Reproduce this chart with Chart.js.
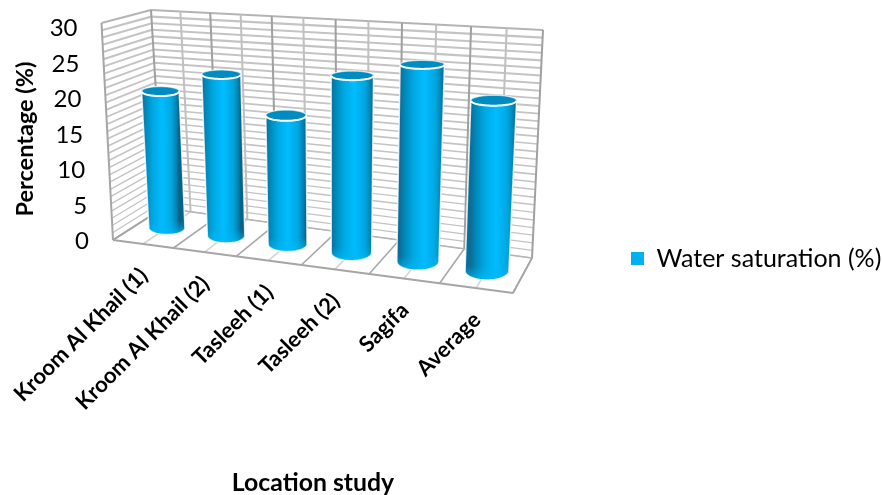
<!DOCTYPE html>
<html lang="en">

<head>
    <meta charset="UTF-8">
    <title>Water saturation by location</title>
    <style>
        body {
            margin: 0;
            background-color: #fff;
        }

        canvas {
            display: block;
        }
    </style>
    <script src="https://cdn.jsdelivr.net/npm/chart.js"></script>
</head>

<body>
    <canvas id="myChart" width="882" height="495"></canvas>
    <script>
        const categories = ['Kroom Al Khail (1)', 'Kroom Al Khail (2)', 'Tasleeh (1)', 'Tasleeh (2)', 'Sagifa', 'Average'];
        const waterSaturation = [19.5, 22.5, 17.5, 23.5, 25.5, 21.5];
        const seriesName = 'Water saturation (%)';
        const yTitle = 'Percentage (%)';
        const xTitle = 'Location study';

        const FONT = 'Lato, Carlito, sans-serif';

        // box corners of the 3D plot: [x, y], named by side / depth / height
        const box = {
            frontLeftBottom: [113, 240], frontRightBottom: [513, 293],
            backLeftBottom: [163, 208], backRightBottom: [532, 258],
            frontLeftTop: [101.5, 23], frontRightTop: [525, 40],
            backLeftTop: [151, 10], backRightTop: [543, 30]
        };
        const PERSPECTIVE = 0.89;

        function lerp(a, b, t) {
            return [a[0] + (b[0] - a[0]) * t, a[1] + (b[1] - a[1]) * t];
        }

        // x fraction across the floor, with the far end foreshortened
        function warp(t) {
            return t * PERSPECTIVE / (1 - t + t * PERSPECTIVE);
        }

        // s across, v up, d into the page, all 0..1
        function project(s, v, d) {
            const bottom = lerp(lerp(box.frontLeftBottom, box.frontRightBottom, s), lerp(box.backLeftBottom, box.backRightBottom, s), d);
            const top = lerp(lerp(box.frontLeftTop, box.frontRightTop, s), lerp(box.backLeftTop, box.backRightTop, s), d);
            return lerp(bottom, top, v);
        }

        function line(ctx, a, b, color, width) {
            ctx.strokeStyle = color;
            ctx.lineWidth = width;
            ctx.beginPath();
            ctx.moveTo(a[0], a[1]);
            ctx.lineTo(b[0], b[1]);
            ctx.stroke();
        }

        function drawWalls(ctx, yScale) {
            const max = yScale.max;
            for (let n = yScale.min; n <= max; n++) {
                const v = n / max;
                const w = 1.2 + v * 1;
                const color = n === max ? '#b4b4b4' : '#c4c4c4';
                line(ctx, project(0, v, 1), project(1, v, 1), color, w);
                line(ctx, project(0, v, 0), project(0, v, 1), color, w);
            }
            for (let i = 0; i <= 12; i++) {
                const s = warp(i / 12);
                const major = i % 2 === 0;
                const color = major ? '#a0a0a0' : '#c0c0c0';
                line(ctx, project(s, 0, 1), project(s, 1, 1), color, 2);
                line(ctx, project(s, 0, 0), project(s, 0, 1), major ? '#a8a8a8' : '#d4d4d4', 1.6);
            }
            line(ctx, project(0, 0, 0), project(0, 1, 0), '#a6a6a6', 2);
            line(ctx, project(0, 0, 0), project(0, 0, 1), '#a6a6a6', 1.6);
            line(ctx, project(0, 0, 0), project(1, 0, 0), '#a6a6a6', 2);
            line(ctx, project(0, 0, 1), project(1, 0, 1), '#b4b4b4', 1.6);
            line(ctx, project(1, 0, 0), project(1, 0, 1), '#a6a6a6', 1.6);
        }

        // point on the level rim of a cylinder at height v, at angle a
        function rim(s, half, v, a) {
            const c = project(s, v, 0.5);
            const radius = (project(s + half, v, 0.5)[0] - project(s - half, v, 0.5)[0]) / 2;
            const span = project(s, v, 0)[1] - project(s, v, 1)[1];
            const squash = span * (0.2 + 0.07 * s + 0.05 * v);
            return [c[0] + Math.cos(a) * radius, c[1] - Math.sin(a) * squash];
        }

        function rimPath(ctx, s, half, v, from, to, steps, join) {
            for (let i = 0; i <= steps; i++) {
                const p = rim(s, half, v, from + (to - from) * i / steps);
                i || join ? ctx.lineTo(p[0], p[1]) : ctx.moveTo(p[0], p[1]);
            }
        }

        function drawCylinder(ctx, bar, area, yScale) {
            const s0 = warp((bar.x - bar.width / 2 - area.left) / area.width);
            const s1 = warp((bar.x + bar.width / 2 - area.left) / area.width);
            const s = (s0 + s1) / 2;
            const half = (s1 - s0) / 2;
            const vTop = (yScale.bottom - bar.y) / yScale.height;
            const vBase = (yScale.bottom - bar.base) / yScale.height;
            const STEPS = 48;

            // back half of the top rim, then front half of the bottom rim
            ctx.beginPath();
            rimPath(ctx, s, half, vTop, Math.PI, 0, STEPS, false);
            rimPath(ctx, s, half, vBase, 0, -Math.PI, STEPS, true);
            ctx.closePath();

            const l = rim(s, half, vTop, Math.PI);
            const r = rim(s, half, vTop, 0);
            const grad = ctx.createLinearGradient(l[0], 0, r[0], 0);
            grad.addColorStop(0, '#0c6e98');
            grad.addColorStop(0.1, '#0087b8');
            grad.addColorStop(0.3, '#00a8e2');
            grad.addColorStop(0.55, '#00bdff');
            grad.addColorStop(0.8, '#00a6e0');
            grad.addColorStop(0.93, '#0082b0');
            grad.addColorStop(1, '#0a6285');
            ctx.fillStyle = grad;
            ctx.fill();

            // lighter band along the bottom edge
            const low = rim(s, half, vBase, -Math.PI / 2);
            const shine = ctx.createLinearGradient(0, low[1] - 14, 0, low[1]);
            shine.addColorStop(0, 'rgba(0,184,245,0)');
            shine.addColorStop(1, 'rgba(0,184,245,0.75)');
            ctx.fillStyle = shine;
            ctx.fill();

            ctx.strokeStyle = 'rgba(255,255,255,0.8)';
            ctx.lineWidth = 1.4;
            ctx.stroke();

            ctx.beginPath();
            rimPath(ctx, s, half, vTop, 0, 2 * Math.PI, STEPS, false);
            ctx.closePath();
            ctx.fillStyle = '#008cc0';
            ctx.fill();
            ctx.strokeStyle = 'rgba(255,255,255,0.55)';
            ctx.lineWidth = 1;
            ctx.stroke();

            // thick bright lip on the near side of the cap
            ctx.beginPath();
            rimPath(ctx, s, half, vTop, Math.PI, 2 * Math.PI, STEPS, false);
            ctx.strokeStyle = '#fff';
            ctx.lineWidth = 2;
            ctx.stroke();
        }

        function drawLabels(ctx, chart) {
            const xScale = chart.scales.x;
            const yScale = chart.scales.y;
            ctx.fillStyle = '#000';

            // value labels follow the slanted front edge
            ctx.font = '24px ' + FONT;
            ctx.textAlign = 'right';
            ctx.textBaseline = 'middle';
            yScale.ticks.forEach(tick => {
                const edge = project(0, tick.value / yScale.max, 0);
                ctx.fillText(tick.label, edge[0] - 24, yScale.getPixelForValue(tick.value) + 1.5);
            });

            ctx.font = 'bold 22px ' + FONT;
            categories.forEach((name, i) => {
                const px = xScale.getPixelForTick(i);
                const p = project(warp((px - xScale.left) / xScale.width), 0, 0);
                ctx.save();
                ctx.translate(p[0] + 1, p[1] + 28);
                ctx.rotate(-Math.PI / 4);
                ctx.fillText(name, 0, 0);
                ctx.restore();
            });

            ctx.save();
            ctx.font = 'bold 23.5px ' + FONT;
            ctx.textAlign = 'center';
            ctx.translate(25, 139);
            ctx.rotate(-Math.PI / 2);
            ctx.fillText(yTitle, 0, 0);
            ctx.restore();
        }

        const cylinders = {
            id: 'cylinders',
            afterLayout(chart) {
                // the legend sits right of the plot, level with the floor
                const legend = chart.legend;
                legend.left = 621;
                legend.right = 882;
                legend.top = 236;
                legend.bottom = 280;
            },
            beforeDatasetsDraw(chart) {
                const ctx = chart.ctx;
                ctx.save();
                drawWalls(ctx, chart.scales.y);
                chart.getDatasetMeta(0).data.forEach(bar => drawCylinder(ctx, bar, chart.chartArea, chart.scales.y));
                drawLabels(ctx, chart);
                ctx.restore();
                return false;
            }
        };

        new Chart(document.getElementById('myChart').getContext('2d'), {
            type: 'bar',
            data: {
                labels: categories,
                datasets: [{
                    label: seriesName,
                    data: waterSaturation,
                    backgroundColor: '#00B0F0',
                    barPercentage: 0.62,
                    categoryPercentage: 1
                }]
            },
            plugins: [cylinders],
            options: {
                responsive: false,
                animation: false,
                layout: {
                    padding: { left: 101, right: 357, top: 27, bottom: 0 }
                },
                scales: {
                    x: {
                        grid: { display: false },
                        border: { display: false },
                        ticks: { display: false },
                        title: {
                            display: true,
                            text: xTitle,
                            color: '#000',
                            font: { family: FONT, size: 24.8, weight: 'bold' },
                            padding: { top: 0, bottom: -3 }
                        },
                        afterFit(scale) {
                            scale.height = 255;
                        }
                    },
                    y: {
                        min: 0,
                        max: 30,
                        grid: { display: false },
                        border: { display: false },
                        ticks: { display: false, stepSize: 5 },
                        afterFit(scale) {
                            scale.width = 0;
                        }
                    }
                },
                plugins: {
                    legend: {
                        position: 'chartArea',
                        align: 'start',
                        labels: {
                            color: '#000',
                            boxWidth: 13,
                            boxHeight: 13,
                            font: { family: FONT, size: 25 }
                        }
                    },
                    tooltip: { enabled: false }
                }
            }
        });
    </script>
</body>

</html>
